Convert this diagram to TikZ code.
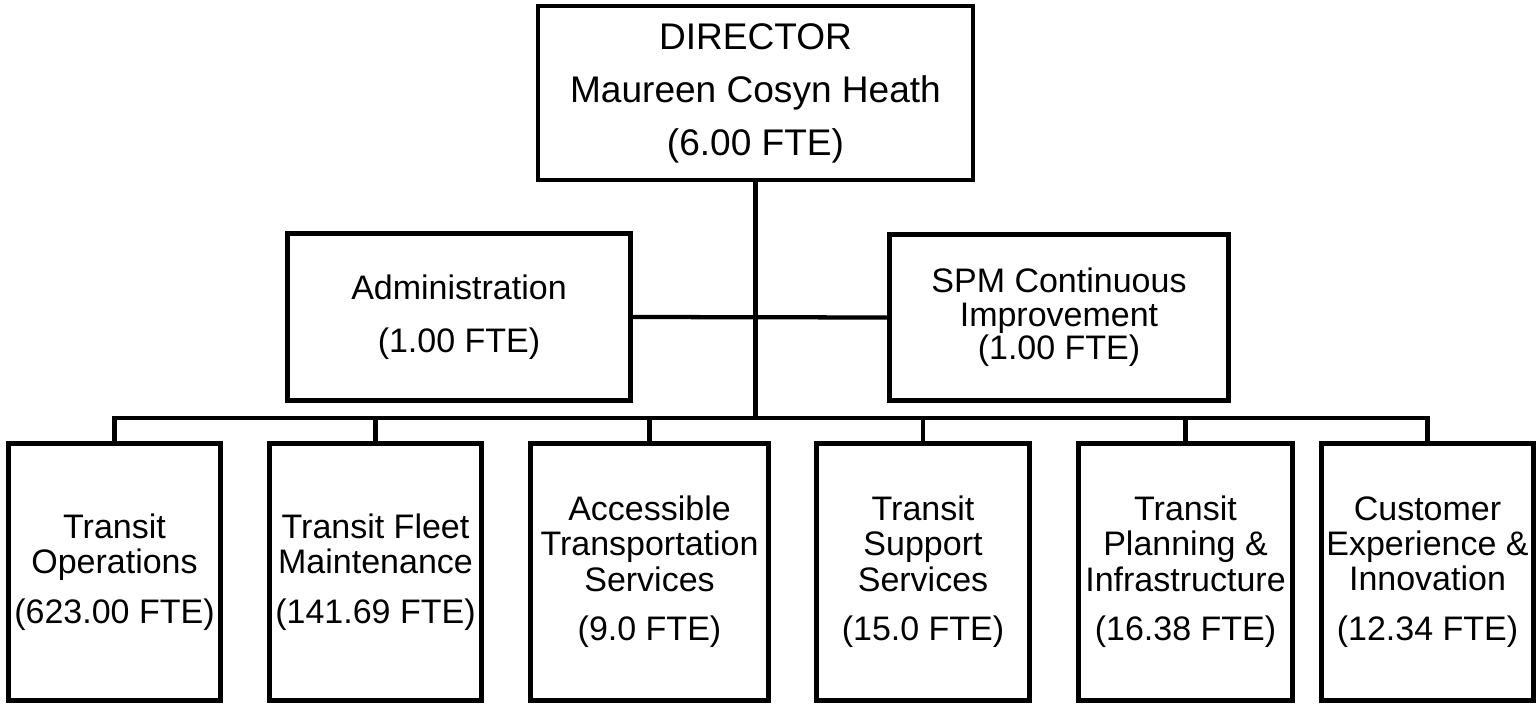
\documentclass[tikz,border=0pt]{standalone}
\usepackage{fontspec}
\setmainfont{Liberation Sans}
\begin{document}
\begin{tikzpicture}[x=0.75pt,y=-0.75pt,
  box/.style={draw=black, line width=3.6pt, inner sep=0pt, align=center, fill=white},
  topbox/.style={box, font=\fontsize{27.8}{39.75}\selectfont},
  midbox/.style={box, font=\fontsize{25.5}{39.75}\selectfont},
  spmbox/.style={box, font=\fontsize{25.5}{25}\selectfont},
  unitbox/.style={box, minimum height=192.75pt, font=\fontsize{25.5}{26.3}\selectfont},
  link/.style={draw=black, line width=3.2pt}
]
\useasboundingbox (0,0) rectangle (1537,706);

\node[topbox, minimum width=326.25pt, minimum height=130.5pt] (dir) at (755.5,93) {DIRECTOR\\Maureen Cosyn Heath\\(6.00 FTE)};
\node[midbox, minimum width=257.25pt, minimum height=125.25pt] (adm) at (459,317) {Administration\\(1.00 FTE)};
\node[spmbox, minimum width=254.25pt, minimum height=124.5pt] (spm) at (1059,317.5) {SPM Continuous\\Improvement\\(1.00 FTE)};

\node[unitbox, minimum width=159pt] (t1) at (114.5,572) {Transit\\Operations\\[11pt](623.00 FTE)};
\node[unitbox, minimum width=159pt] (t2) at (375.5,572) {Transit Fleet\\Maintenance\\[11pt](141.69 FTE)};
\node[unitbox, minimum width=178.5pt] (t3) at (649.5,572) {Accessible\\Transportation\\Services\\[11pt](9.0 FTE)};
\node[unitbox, minimum width=159.75pt] (t4) at (923,572) {Transit\\Support\\Services\\[11pt](15.0 FTE)};
\node[unitbox, minimum width=160.5pt] (t5) at (1185.5,572) {Transit\\Planning \&\\Infrastructure\\[11pt](16.38 FTE)};
\node[unitbox, minimum width=159pt] (t6) at (1427.5,572) {Customer\\Experience \&\\Innovation\\[11pt](12.34 FTE)};

\coordinate (bus) at (755.5,418);

\draw[link] (dir.south) -- (bus);
\draw[link] (adm.east) -- (spm.west);
\draw[link] (t1.north) |- (bus);
\draw[link] (t2.north) |- (bus);
\draw[link] (t3.north) |- (bus);
\draw[link] (t4.north) |- (bus);
\draw[link] (t5.north) |- (bus);
\draw[link] (t6.north) |- (bus);
\end{tikzpicture}
\end{document}
